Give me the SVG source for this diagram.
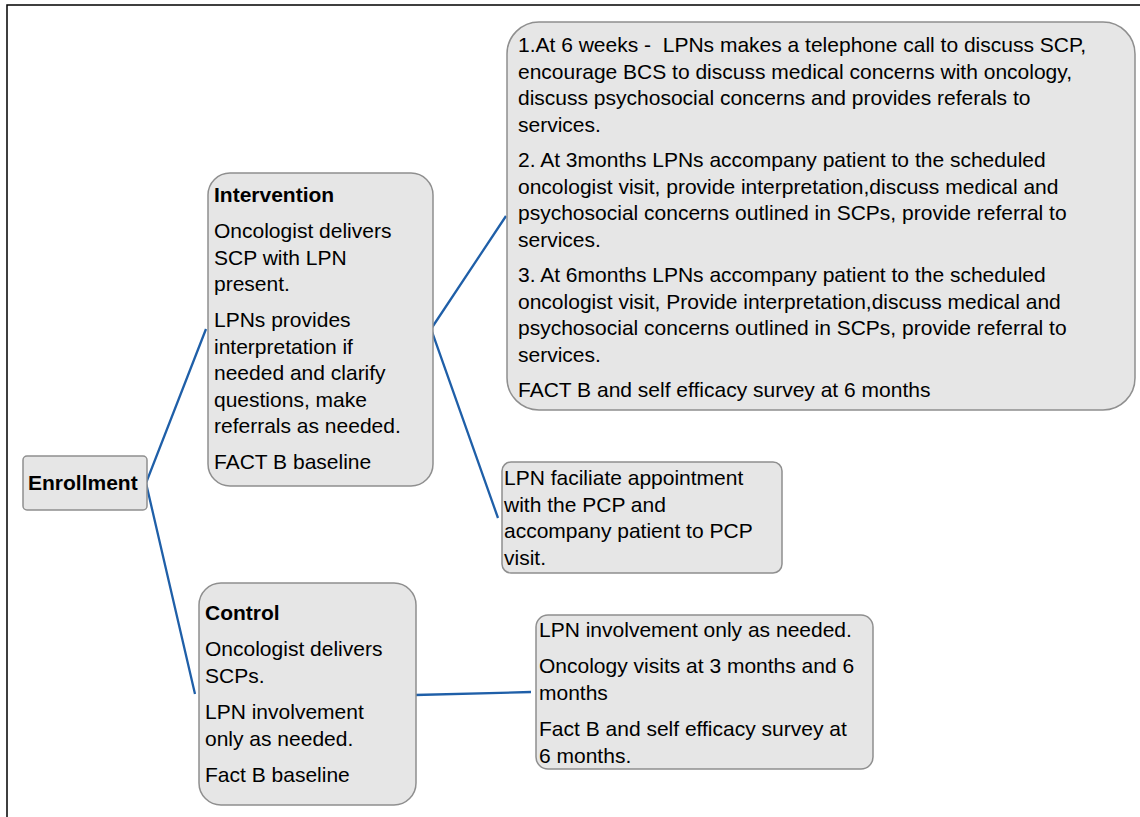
<svg xmlns="http://www.w3.org/2000/svg" width="1140" height="817" viewBox="0 0 1140 817">
<style>
.box{fill:#e6e6e6;stroke:#8f8f8f;stroke-width:1.5}
text{font-family:"Liberation Sans",Arial,sans-serif;font-size:21px;fill:#000}
.b{font-weight:bold}
.conn{stroke:#1f5fa8;stroke-width:2.3;fill:none}
</style>
<rect x="0" y="0" width="1140" height="817" fill="#fff"/>
<rect x="7" y="5" width="1145" height="830" fill="none" stroke="#000" stroke-width="1.5"/>
<g id="connectors">
<polyline class="conn" points="206,329 146,483 195,694"/>
<polyline class="conn" points="506,216 431,329 498,518"/>
<line class="conn" x1="415" y1="695" x2="531" y2="692"/>
</g>
<g id="enrollment">
<rect class="box" x="23" y="456" width="124" height="54" rx="4"/>
<text class="b" x="28" y="490">Enrollment</text>
</g>
<g id="intervention">
<rect class="box" x="208" y="173" width="225" height="313" rx="22"/>
<text class="b" x="214" y="202">Intervention</text>
<text x="214" y="238">Oncologist delivers</text>
<text x="214" y="264.5">SCP with LPN</text>
<text x="214" y="291">present.</text>
<text x="214" y="327">LPNs provides</text>
<text x="214" y="353.5">interpretation if</text>
<text x="214" y="380">needed and clarify</text>
<text x="214" y="406.5">questions, make</text>
<text x="214" y="433">referrals as needed.</text>
<text x="214" y="469">FACT B baseline</text>
</g>
<g id="intervention-steps">
<rect class="box" x="507" y="22" width="628" height="388" rx="32"/>
<text x="518" y="52">1.At 6 weeks -&#160; LPNs makes a telephone call to discuss SCP,</text>
<text x="518" y="78.5">encourage BCS to discuss medical concerns with oncology,</text>
<text x="518" y="105">discuss psychosocial concerns and provides referals to</text>
<text x="518" y="131.5">services.</text>
<text x="518" y="167">2. At 3months LPNs accompany patient to the scheduled</text>
<text x="518" y="193.5">oncologist visit, provide interpretation,discuss medical and</text>
<text x="518" y="220">psychosocial concerns outlined in SCPs, provide referral to</text>
<text x="518" y="246.5">services.</text>
<text x="518" y="282">3. At 6months LPNs accompany patient to the scheduled</text>
<text x="518" y="308.5">oncologist visit, Provide interpretation,discuss medical and</text>
<text x="518" y="335">psychosocial concerns outlined in SCPs, provide referral to</text>
<text x="518" y="361.5">services.</text>
<text x="518" y="397">FACT B and self efficacy survey at 6 months</text>
</g>
<g id="pcp">
<rect class="box" x="502" y="462" width="280" height="111" rx="9"/>
<text x="504" y="485">LPN faciliate appointment</text>
<text x="504" y="511.5">with the PCP and</text>
<text x="504" y="538">accompany patient to PCP</text>
<text x="504" y="564.5">visit.</text>
</g>
<g id="control">
<rect class="box" x="199" y="583" width="217" height="222" rx="22"/>
<text class="b" x="205" y="620">Control</text>
<text x="205" y="656">Oncologist delivers</text>
<text x="205" y="682.5">SCPs.</text>
<text x="205" y="719">LPN involvement</text>
<text x="205" y="745.5">only as needed.</text>
<text x="205" y="782">Fact B baseline</text>
</g>
<g id="control-steps">
<rect class="box" x="536" y="615" width="337" height="154" rx="12"/>
<text x="539" y="637">LPN involvement only as needed.</text>
<text x="539" y="673">Oncology visits at 3 months and 6</text>
<text x="539" y="699.5">months</text>
<text x="539" y="736">Fact B and self efficacy survey at</text>
<text x="539" y="762.5">6 months.</text>
</g>
</svg>
